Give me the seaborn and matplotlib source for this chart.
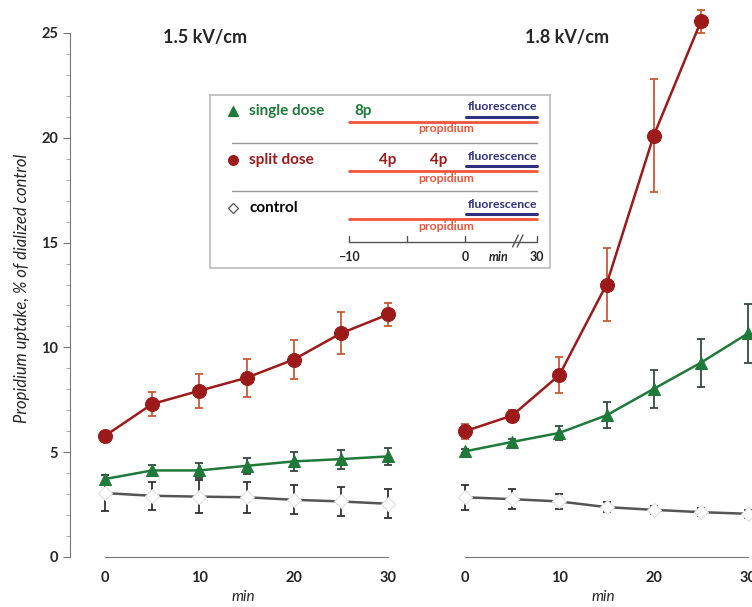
import numpy as np
import pandas as pd
import matplotlib
matplotlib.use("Agg")
import matplotlib.pyplot as plt
import matplotlib.ticker as ticker
import seaborn as sns

# values (min after pulses)
minutes = [0, 5, 10, 15, 20, 25, 30]

split_15 = [5.78, 7.30, 7.93, 8.55, 9.42, 10.67, 11.57]
split_15_err = [0.2, 0.57, 0.8, 0.9, 0.95, 1.0, 0.55]
single_15 = [3.72, 4.13, 4.13, 4.35, 4.56, 4.67, 4.80]
single_15_err = [0.2, 0.25, 0.35, 0.37, 0.45, 0.45, 0.4]
control_15 = [3.05, 2.92, 2.88, 2.85, 2.73, 2.65, 2.54]
control_15_err = [0.85, 0.68, 0.77, 0.75, 0.7, 0.7, 0.7]

minutes_split_18 = [0, 5, 10, 15, 20, 25]
split_18 = [6.0, 6.75, 8.68, 13.0, 20.1, 25.55]
split_18_err = [0.35, 0.25, 0.87, 1.72, 2.7, 0.55]
single_18 = [5.04, 5.49, 5.92, 6.76, 8.02, 9.27, 10.67]
single_18_err = [0.1, 0.15, 0.32, 0.62, 0.9, 1.15, 1.4]
control_18 = [2.85, 2.76, 2.65, 2.38, 2.25, 2.14, 2.06]
control_18_err = [0.6, 0.48, 0.35, 0.25, 0.2, 0.2, 0.2]

panel_titles = ["1.5 kV/cm", "1.8 kV/cm"]
ylabel = "Propidium uptake, % of dialized control"

# timeline inset (drawn units: 30 min is put right after the axis break)
timeline_ticks = [-10, -5, 0]
timeline_end = 6.2
timeline_labels = {-10: "\u221210", 0: "0", 6.2: "30"}

RED = "#9c1a1a"
RED_ERR = "#cc5a30"
GREEN = "#1f7a3a"
GREEN_ERR = "#34483f"
GREY = "#555555"
PROP = "#f0553a"
FLUO = "#30307f"

sns.set_style("white")
plt.rcParams["font.family"] = ["Lato", "DejaVu Sans"]

fig = plt.figure(figsize=(7.52, 6.07), dpi=100)

px_min = 283 / 30.0
xlo, xhi = -3.7, 33
ax_w = (xhi - xlo) * px_min / 752
ax_b = 50 / 607
ax_h = 26.3 * 20.96 / 607
ax1 = fig.add_axes([(105 + xlo * px_min) / 752, ax_b, ax_w, ax_h])
ax2 = fig.add_axes([(465 + xlo * px_min) / 752, ax_b, ax_w, ax_h])


def series(ax, x, y, err, color, ecolor, marker, ms, mfc, mec):
    df = pd.DataFrame({"min": x, "value": y})
    ax.errorbar(x, y, yerr=err, fmt="none", ecolor=ecolor, elinewidth=1.3,
                capsize=3, capthick=1.3, zorder=2)
    sns.lineplot(data=df, x="min", y="value", ax=ax, color=color, lw=1.8,
                 marker=marker, markersize=ms, markerfacecolor=mfc,
                 markeredgecolor=mec, markeredgewidth=0.8, zorder=3)


series(ax1, minutes, control_15, control_15_err, GREY, "#333333", "D", 7, "white", "#e0e0e0")
series(ax1, minutes, single_15, single_15_err, GREEN, GREEN_ERR, "^", 9, GREEN, GREEN)
series(ax1, minutes, split_15, split_15_err, RED, RED_ERR, "o", 10, RED, RED)

series(ax2, minutes, control_18, control_18_err, GREY, "#333333", "D", 7, "white", "#e0e0e0")
series(ax2, minutes, single_18, single_18_err, GREEN, GREEN_ERR, "^", 9, GREEN, GREEN)
series(ax2, minutes_split_18, split_18, split_18_err, RED, RED_ERR, "o", 10, RED, RED)

for ax in (ax1, ax2):
    ax.set_xlim(xlo, xhi)
    ax.set_ylim(0, 26.3)
    ax.patch.set_alpha(0)
    for s in ("top", "right"):
        ax.spines[s].set_visible(False)
    ax.spines["bottom"].set_bounds(0, 30)
    ax.spines["bottom"].set_color("#777777")
    ax.xaxis.set_major_locator(ticker.MultipleLocator(10))
    ax.xaxis.set_minor_locator(ticker.MultipleLocator(5))
    ax.tick_params(axis="x", which="both", direction="in", length=4,
                   color="#777777", labelsize=10.5, pad=10)
    for lab in ax.get_xticklabels():
        lab.set_fontweight("bold")
    ax.set_xlabel("min", style="italic", fontsize=11, labelpad=4)
    ax.set_ylabel("")

ax1.spines["left"].set_bounds(0, 25)
ax1.spines["left"].set_color("#777777")
ax1.yaxis.set_major_locator(ticker.FixedLocator([0, 5, 10, 15, 20, 25]))
ax1.yaxis.set_minor_locator(ticker.FixedLocator(range(0, 26)))
ax1.tick_params(axis="y", which="major", direction="out", length=5,
                color="#777777", labelsize=10.5, left=True)
ax1.tick_params(axis="y", which="minor", direction="out", length=3,
                color="#999999", left=True)
for lab in ax1.get_yticklabels():
    lab.set_fontweight("bold")

ax2.spines["left"].set_visible(False)
ax2.tick_params(axis="y", which="both", left=False, labelleft=False)

fig.text(205 / 752, 1 - 38 / 607, panel_titles[0], ha="center", va="center",
         fontsize=13, fontweight="bold")
fig.text(567 / 752, 1 - 38 / 607, panel_titles[1], ha="center", va="center",
         fontsize=13, fontweight="bold")
fig.text(22 / 752, 1 - 288 / 607, ylabel, rotation=90, ha="center", va="center",
         fontsize=12, style="italic")

# inset protocol box
ins = fig.add_axes([210 / 752, (607 - 268) / 607, 340 / 752, 173 / 607])
ins.set_xlim(-10 - 139 / 11.6, 85 / 11.6)
ins.set_ylim(173, 0)
ins.set_xticks([])
ins.set_yticks([])
ins.set_facecolor("white")
for s in ins.spines.values():
    s.set_color("#bbbbbb")
    s.set_linewidth(1.2)

rows = [
    ("single dose", GREEN, "^", GREEN, 16, [("8p", -8.8)]),
    ("split dose", RED, "o", RED, 65, [("4p", -6.7), ("4p", -2.3)]),
    ("control", "black", "D", "white", 113, []),
]
for name, col, mk, mfc, y0, pulses in rows:
    ins.plot([-20.0], [y0], marker=mk, ms=7 if mk != "D" else 5, color=col,
             mfc=mfc, mec=col if mk != "D" else "#555555", mew=0.9, ls="none")
    ins.text(-18.6, y0, name, color=col, fontsize=11, fontweight="bold",
             va="center", ha="left")
    for lab, xp in pulses:
        ins.text(xp, y0, lab, color=col, fontsize=11, fontweight="bold",
                 va="center", ha="center")
    ins.text(timeline_end, y0 - 4, "fluorescence", color=FLUO, fontsize=8.8,
             fontweight="bold", va="center", ha="right")
    ins.plot([0.1, timeline_end], [y0 + 5.5, y0 + 5.5], color=FLUO, lw=2.2)
    ins.plot([-10, timeline_end], [y0 + 10.5, y0 + 10.5], color=PROP, lw=2)
    ins.text(-1.6, y0 + 18, "propidium", color=PROP, fontsize=8.8,
             fontweight="bold", va="center", ha="center")

for ysep in (48, 96):
    ins.plot([-20.1, timeline_end], [ysep, ysep], color="#999999", lw=1)

# timeline axis with break
ins.plot([-10, timeline_end], [147, 147], color="#555555", lw=1)
for t in timeline_ticks + [timeline_end]:
    ins.plot([t, t], [147, 141], color="#555555", lw=1)
for xb in (4.35, 4.75):
    ins.plot([xb - 0.25, xb + 0.25], [152, 140], color="#555555", lw=1)
for t, lab in timeline_labels.items():
    ins.text(t, 162, lab, fontsize=9, fontweight="bold", ha="center", va="center")
ins.text(2.9, 162, "min", fontsize=9, style="italic", fontweight="bold",
         ha="center", va="center")

fig.savefig("out.png", dpi=100)
